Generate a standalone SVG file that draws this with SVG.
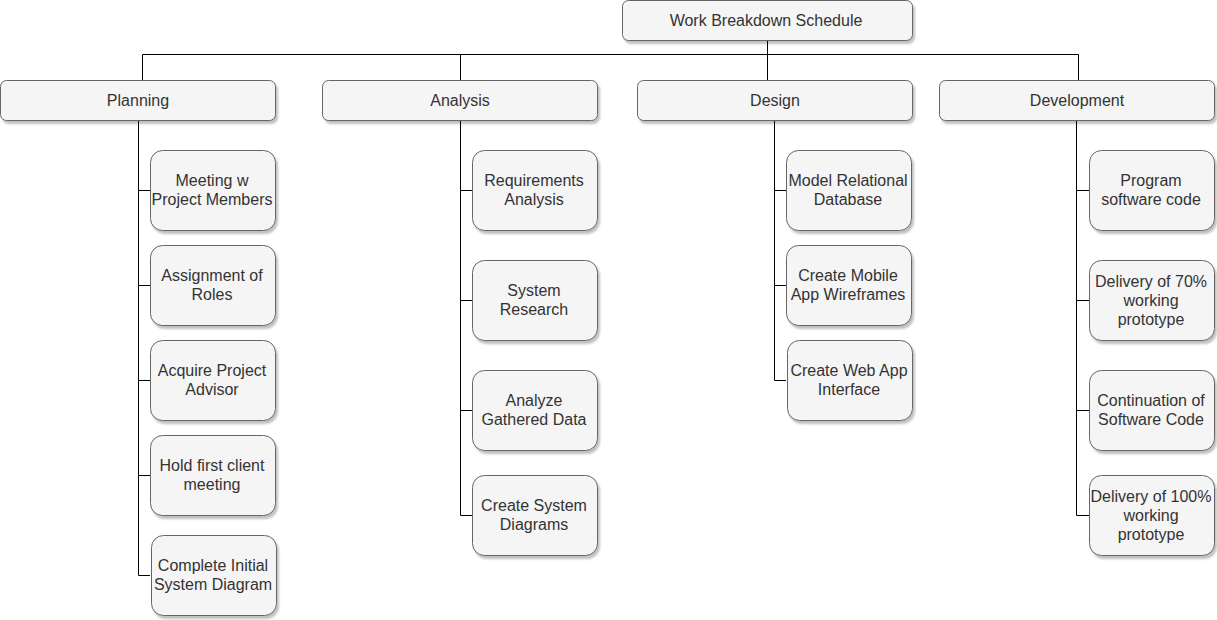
<svg xmlns="http://www.w3.org/2000/svg" width="1217" height="620" viewBox="0 0 1217 620">
<defs>
<filter id="sh" x="-10%" y="-10%" width="130%" height="140%">
<feGaussianBlur in="SourceAlpha" stdDeviation="1.2"/>
<feOffset dx="2" dy="3" result="b"/>
<feComponentTransfer><feFuncA type="linear" slope="0.25"/></feComponentTransfer>
<feMerge><feMergeNode/><feMergeNode in="SourceGraphic"/></feMerge>
</filter>
</defs>
<style>
rect{fill:#f5f5f5;stroke:#666666;stroke-width:1;filter:url(#sh)}
text{font-family:"Liberation Sans",Arial,sans-serif;font-size:16px;fill:#333333;text-anchor:middle}
.c{fill:none;stroke:#000;stroke-width:1}
</style>
<g id="connectors">
<path class="c" d="M767.5 40V54.5M142.5 54.5H1078.5M142.5 54.5V80M460.5 54.5V80M767.5 54.5V80M1078.5 54.5V80"/>
<path class="c" d="M138.5 120V575.5M138.5 190.5H150M138.5 285.5H150M138.5 380.5H150M138.5 475.5H150M138.5 575.5H150"/>
<path class="c" d="M460.5 120V515.5M460.5 190.5H472M460.5 300.5H472M460.5 410.5H472M460.5 515.5H472"/>
<path class="c" d="M774.5 120V380.5M774.5 190.5H786M774.5 285.5H786M774.5 380.5H786"/>
<path class="c" d="M1076.5 120V515.5M1076.5 190.5H1089M1076.5 300.5H1089M1076.5 410.5H1089M1076.5 515.5H1089"/>
</g>
<g id="wbs"><rect x="622.5" y="0.5" width="290" height="40" rx="6"/><text x="766" y="26">Work Breakdown Schedule</text></g>
<g id="planning"><rect x="0.5" y="80.5" width="275" height="40" rx="6"/><text x="138" y="106">Planning</text></g>
<g id="analysis"><rect x="322.5" y="80.5" width="275" height="40" rx="6"/><text x="460" y="106">Analysis</text></g>
<g id="design"><rect x="637.5" y="80.5" width="275" height="40" rx="6"/><text x="775" y="106">Design</text></g>
<g id="development"><rect x="939.5" y="80.5" width="275" height="40" rx="6"/><text x="1077" y="106">Development</text></g>

<g id="p1"><rect x="150.5" y="150.5" width="125" height="80" rx="12"/><text x="212" y="186">Meeting w</text><text x="212" y="205">Project Members</text></g>
<g id="p2"><rect x="150.5" y="245.5" width="125" height="80" rx="12"/><text x="212" y="281">Assignment of</text><text x="212" y="300">Roles</text></g>
<g id="p3"><rect x="150.5" y="340.5" width="125" height="80" rx="12"/><text x="212" y="376">Acquire Project</text><text x="212" y="395">Advisor</text></g>
<g id="p4"><rect x="150.5" y="435.5" width="125" height="80" rx="12"/><text x="212" y="471">Hold first client</text><text x="212" y="490">meeting</text></g>
<g id="p5"><rect x="151.5" y="535.5" width="125" height="80" rx="12"/><text x="213" y="571">Complete Initial</text><text x="213" y="590">System Diagram</text></g>

<g id="a1"><rect x="472.5" y="150.5" width="125" height="80" rx="12"/><text x="534" y="186">Requirements</text><text x="534" y="205">Analysis</text></g>
<g id="a2"><rect x="472.5" y="260.5" width="125" height="80" rx="12"/><text x="534" y="296">System</text><text x="534" y="315">Research</text></g>
<g id="a3"><rect x="472.5" y="370.5" width="125" height="80" rx="12"/><text x="534" y="406">Analyze</text><text x="534" y="425">Gathered Data</text></g>
<g id="a4"><rect x="472.5" y="475.5" width="125" height="80" rx="12"/><text x="534" y="511">Create System</text><text x="534" y="530">Diagrams</text></g>

<g id="d1"><rect x="786.5" y="150.5" width="125" height="80" rx="12"/><text x="848" y="186">Model Relational</text><text x="848" y="205">Database</text></g>
<g id="d2"><rect x="786.5" y="245.5" width="125" height="80" rx="12"/><text x="848" y="281">Create Mobile</text><text x="848" y="300">App Wireframes</text></g>
<g id="d3"><rect x="787.5" y="340.5" width="125" height="80" rx="12"/><text x="849" y="376">Create Web App</text><text x="849" y="395">Interface</text></g>

<g id="v1"><rect x="1089.5" y="150.5" width="125" height="80" rx="12"/><text x="1151" y="186">Program</text><text x="1151" y="205">software code</text></g>
<g id="v2"><rect x="1089.5" y="260.5" width="125" height="80" rx="12"/><text x="1151" y="287">Delivery of 70%</text><text x="1151" y="306">working</text><text x="1151" y="325">prototype</text></g>
<g id="v3"><rect x="1089.5" y="370.5" width="125" height="80" rx="12"/><text x="1151" y="406">Continuation of</text><text x="1151" y="425">Software Code</text></g>
<g id="v4"><rect x="1089.5" y="475.5" width="125" height="80" rx="12"/><text x="1151" y="502">Delivery of 100%</text><text x="1151" y="521">working</text><text x="1151" y="540">prototype</text></g>
</svg>
